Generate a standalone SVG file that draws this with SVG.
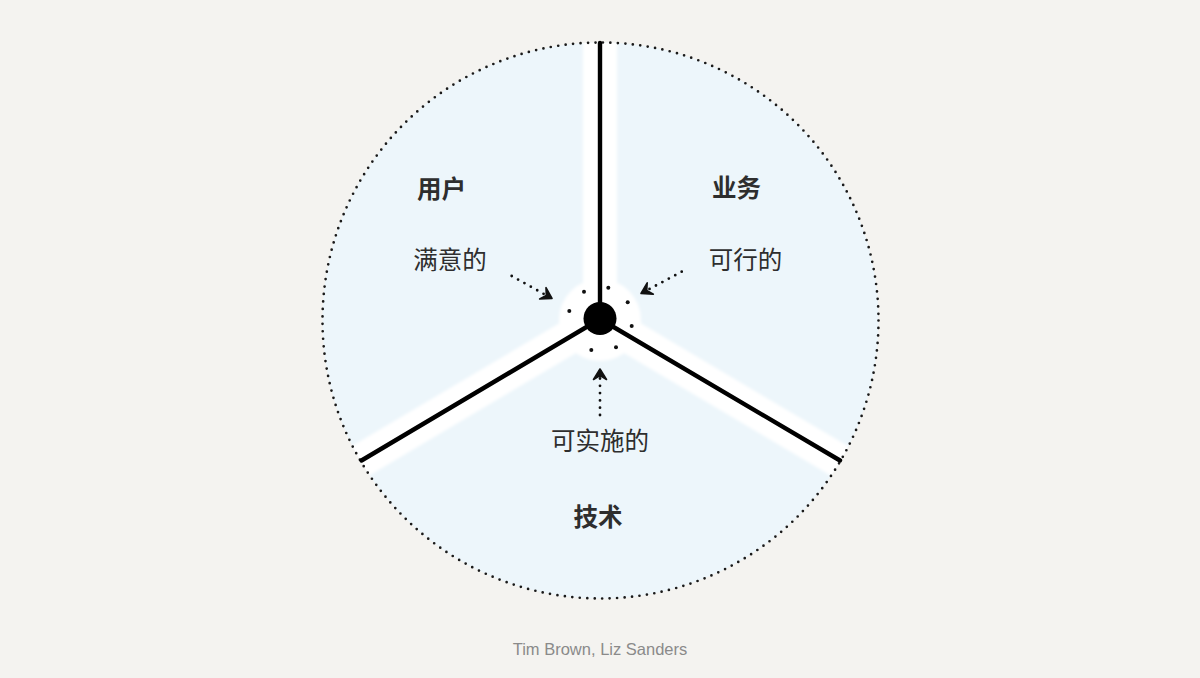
<svg xmlns="http://www.w3.org/2000/svg" width="1200" height="678" viewBox="0 0 1200 678">
  <style>
    .lbl { font-family: "Noto Sans CJK SC", "Noto Sans", sans-serif; font-size: 24.5px; fill: #2e2e2e; text-anchor: middle; }
    .bold { font-weight: 700; }
    .dotline { fill: none; stroke: #111; stroke-width: 2.8; stroke-linecap: round; stroke-dasharray: 0 7.3; }
    .axis { fill: none; stroke: #000; stroke-width: 4.4; stroke-linecap: round; }
    .band { fill: none; stroke: #ffffff; stroke-width: 34; }
    .credit { font-family: "Liberation Sans", Arial, sans-serif; font-size: 16.5px; fill: #8a8a8a; text-anchor: middle; }
  </style>
  <defs>
    <clipPath id="circ"><circle cx="600.5" cy="320.5" r="278"/></clipPath>
    <filter id="soft" x="-10%" y="-10%" width="120%" height="120%"><feGaussianBlur stdDeviation="1.8"/></filter>
    <marker id="head" viewBox="-12 -8 14 16" markerWidth="14" markerHeight="16" refX="0" refY="0" orient="auto" markerUnits="userSpaceOnUse">
      <path d="M0,0 L-10.5,-6.5 L-6.5,0 L-10.5,6.5 Z" fill="#111" stroke="#111" stroke-width="1.6" stroke-linejoin="round"/>
    </marker>
  </defs>
  <rect width="1200" height="678" fill="#f4f3f0"/>

  <g id="wheel">
    <circle cx="600.5" cy="320.5" r="278" fill="#edf6fb"/>
    <g clip-path="url(#circ)" filter="url(#soft)">
      <path class="band" d="M600,20 L600,319"/>
      <path class="band" d="M600,319 L340,473"/>
      <path class="band" d="M600,319 L860,473"/>
      <circle cx="600" cy="320" r="41" fill="#ffffff"/>
    </g>
    <circle cx="600.5" cy="320.5" r="278" fill="none" stroke="#1a1a1a" stroke-width="2.7" stroke-linecap="round" stroke-dasharray="0 7.497"/>
  </g>

  <g id="connectors">
    <path class="axis" d="M600,43 L600,319"/>
    <path class="axis" d="M600,319 L361.5,460.5"/>
    <path class="axis" d="M600,319 L840,460.5"/>
    <path class="dotline" d="M511.7,276 L552,298.5" marker-end="url(#head)"/>
    <path class="dotline" d="M681.7,271.7 L641,293.5" marker-end="url(#head)"/>
    <path class="dotline" d="M600,415 L600,369" marker-end="url(#head)"/>
  </g>

  <g id="hub">
    <circle cx="600" cy="318.5" r="16.5" fill="#000"/>
    <g fill="#111">
      <circle cx="584" cy="291.7" r="2"/>
      <circle cx="608.3" cy="287.7" r="2"/>
      <circle cx="627.7" cy="302.3" r="2"/>
      <circle cx="631.7" cy="326" r="2"/>
      <circle cx="616" cy="347.3" r="2"/>
      <circle cx="591.3" cy="350" r="2"/>
      <circle cx="569.3" cy="311" r="2"/>
    </g>
  </g>

  <g id="user">
    <text class="lbl bold" x="441.5" y="198">用户</text>
    <text class="lbl" x="450" y="269">满意的</text>
  </g>
  <g id="business">
    <text class="lbl bold" x="736.5" y="197">业务</text>
    <text class="lbl" x="745.5" y="269">可行的</text>
  </g>
  <g id="technology">
    <text class="lbl" x="600" y="450">可实施的</text>
    <text class="lbl bold" x="598" y="526">技术</text>
  </g>
  <g id="credit">
    <text class="credit" x="600" y="655">Tim Brown, Liz Sanders</text>
  </g>
</svg>
